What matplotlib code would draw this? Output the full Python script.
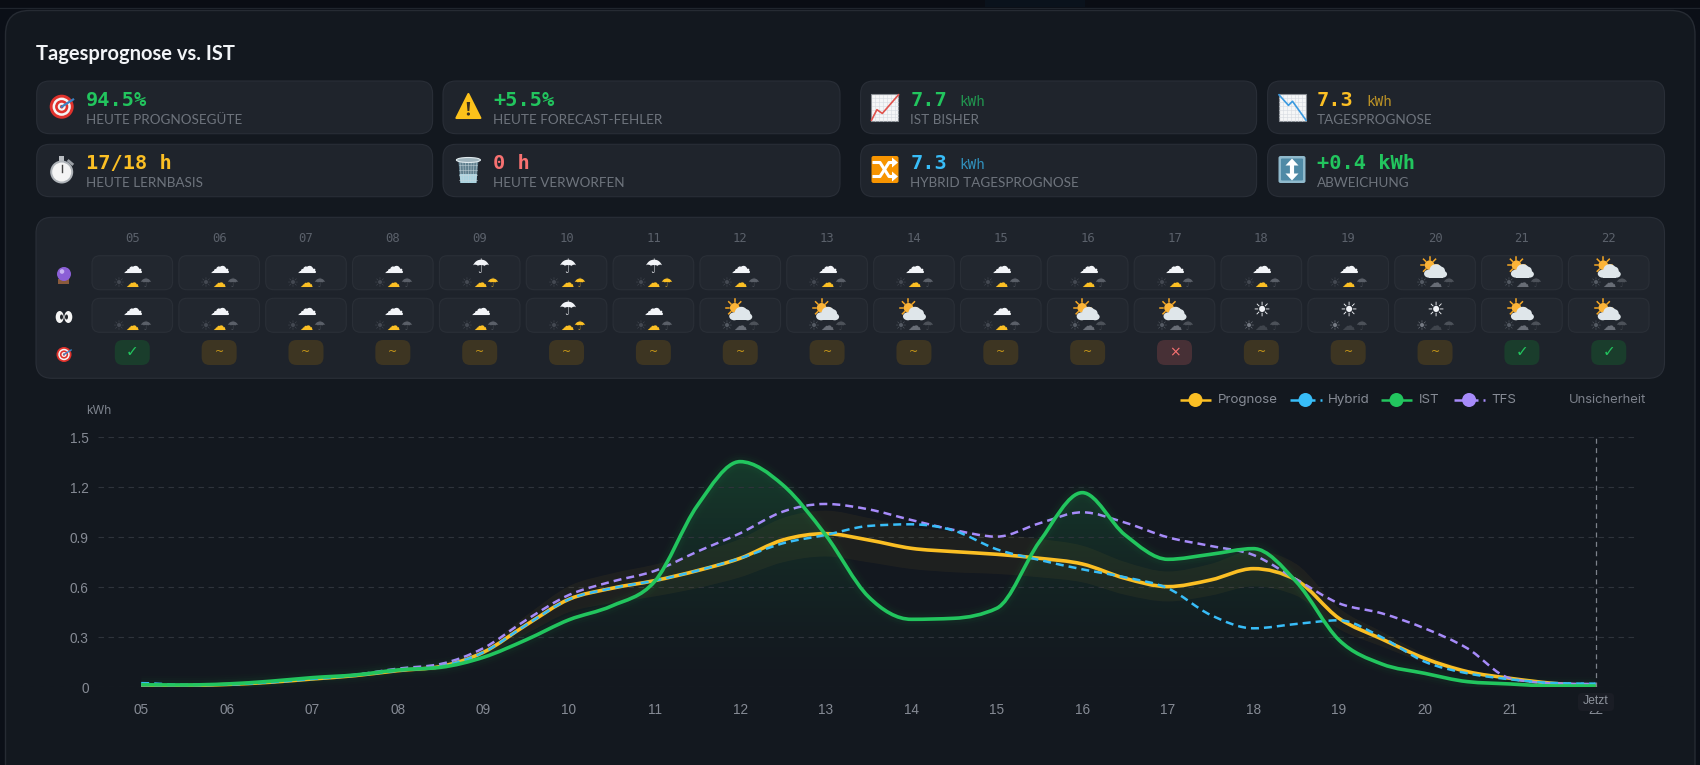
import numpy as np
import matplotlib
matplotlib.use('Agg')
import matplotlib.pyplot as plt
from matplotlib.patches import FancyBboxPatch, PathPatch, Circle, Ellipse, Polygon, Rectangle
from matplotlib.path import Path
from matplotlib.colors import to_rgb

# half hour readings 05:00 .. 22:00
hours = [5 + i * 0.5 for i in range(35)]
prognose = [.008, .01, .017, .03, .05, .07, .10, .125, .21, .374, .528, .594, .64, .70, .774, .884, .922, .884,
            .834, .814, .798, .774, .74, .654, .604, .644, .712, .644, .414, .29, .174, .094, .054, .024, .01]
band_low = [.007, .009, .014, .026, .042, .06, .085, .105, .18, .32, .45, .505, .545, .595, .66, .75, .785, .75,
            .71, .69, .68, .66, .63, .555, .515, .55, .605, .55, .35, .245, .148, .08, .046, .02, .008]
band_high = [.009, .011, .02, .034, .058, .08, .115, .145, .24, .43, .607, .683, .736, .805, .89, 1.016, 1.06, 1.016,
             .96, .936, .918, .89, .85, .752, .695, .74, .82, .74, .476, .334, .2, .108, .062, .028, .012]
hybrid = [.025, .015, .017, .03, .05, .07, .10, .125, .21, .374, .528, .594, .64, .70, .774, .864, .914, .968,
          .978, .94, .828, .764, .708, .66, .594, .434, .354, .38, .402, .30, .154, .084, .048, .026, .022]
ist = [.015, .014, .02, .036, .058, .074, .104, .12, .18, .285, .405, .488, .634, 1.09, 1.354, 1.214, .914, .544,
       .408, .414, .474, .874, 1.168, .914, .768, .798, .832, .634, .284, .14, .084, .034, .02, .008, .008]
tfs = [.012, .012, .017, .03, .052, .075, .112, .14, .235, .404, .554, .634, .698, .814, .924, 1.054, 1.10, 1.068,
       1.004, .944, .904, .984, 1.05, .988, .90, .848, .794, .648, .504, .444, .354, .234, .054, .024, .02]

tick_hours = list(range(5, 23))
tick_labels = ['%02d' % h for h in tick_hours]
y_ticks = [0, 0.3, 0.6, 0.9, 1.2, 1.5]
y_labels = ['0', '0.3', '0.6', '0.9', '1.2', '1.5']

# stat cards
card_values = ['94.5%', '+5.5%', '7.7', '7.3', '17/18 h', '0 h', '7.3', '+0.4 kWh']
card_units = ['', '', 'kWh', 'kWh', '', '', 'kWh', '']
card_labels = ['HEUTE PROGNOSEGÜTE', 'HEUTE FORECAST-FEHLER', 'IST BISHER', 'TAGESPROGNOSE',
               'HEUTE LERNBASIS', 'HEUTE VERWORFEN', 'HYBRID TAGESPROGNOSE', 'ABWEICHUNG']
card_colors = ['#22c55e', '#22c55e', '#22c55e', '#fbbf24', '#fbbf24', '#f87171', '#38bdf8', '#22c55e']

# weather strip: c cloud, u umbrella, p part sun, s sun
forecast_wx = list('ccccuuuccccccccppp')
actual_wx = list('cccccucpppcppssspp')
badges = ['ok'] + ['near'] * 11 + ['bad'] + ['near'] * 3 + ['ok', 'ok']

AMBER, BLUE, GREEN, PURPLE = '#fbbf24', '#38bdf8', '#22c55e', '#a78bfa'
CARD_BG = '#13181f'

fig = plt.figure(figsize=(17, 7.65), dpi=100, facecolor='#0b0f17')
bg = fig.add_axes([0, 0, 1, 1])
bg.set_xlim(0, 1700)
bg.set_ylim(765, 0)
bg.axis('off')


def box(x0, y0, x1, y1, r, fc, ec='none', lw=1, z=1):
    p = FancyBboxPatch((x0, y0), x1 - x0, y1 - y0, boxstyle='round,pad=0,rounding_size=%g' % r,
                       fc=fc, ec=ec, lw=lw, zorder=z)
    bg.add_patch(p)


def smooth(xs, ys):
    # bezier segments through the points, flat at local peaks
    xs, ys = np.array(xs, float), np.array(ys, float)
    n = len(xs)
    m = np.zeros(n)
    for i in range(1, n - 1):
        d0, d1 = ys[i] - ys[i - 1], ys[i + 1] - ys[i]
        if d0 * d1 > 0:
            m[i] = (d0 + d1) / 2
            m[i] = np.sign(m[i]) * min(abs(m[i]), 2 * abs(d0), 2 * abs(d1))
    verts = [(xs[0], ys[0])]
    for i in range(n - 1):
        h = xs[i + 1] - xs[i]
        verts.append((xs[i] + h / 3, ys[i] + m[i] / 3))
        verts.append((xs[i + 1] - h / 3, ys[i + 1] - m[i + 1] / 3))
        verts.append((xs[i + 1], ys[i + 1]))
    return verts


def curve_path(xs, ys):
    v = smooth(xs, ys)
    return Path(v, [Path.MOVETO] + [Path.CURVE4] * (len(v) - 1))


# page frame
bg.add_patch(Rectangle((0, 0), 1700, 7, fc='#0a0d14', ec='none', zorder=0))
bg.plot([0, 1700], [7.5, 7.5], color='#20252d', lw=0.8, zorder=0)
bg.add_patch(Rectangle((985, 0), 100, 7, fc='#0a121c', ec='none', zorder=0))
box(5.5, 10.5, 1695, 810, 24, CARD_BG, '#262b33', 1)

bg.text(36, 60, 'Tagesprognose vs. IST', family='Lato', weight='bold', fontsize=14.5, color='#f2f4f7', zorder=5)


# little stand-ins for the colour emoji, there is no emoji font here
def icon_target(cx, cy, r):
    for f, c in [(1, '#e0322c'), (.76, '#f4f4f4'), (.55, '#e0322c'), (.33, '#f4f4f4'), (.15, '#e0322c')]:
        bg.add_patch(Circle((cx, cy), r * f, fc=c, ec='none', zorder=5))
    bg.plot([cx, cx + r * .95], [cy, cy - r * .6], color='#3b82c4', lw=1.6 * r / 12, zorder=6)


def icon_warning(cx, cy):
    bg.add_patch(Polygon([(cx, cy - 12), (cx + 12, cy + 12), (cx - 12, cy + 12)], fc='#fcc21b', ec='#fcc21b',
                         lw=1.5, joinstyle='round', zorder=5))
    bg.add_patch(Polygon([(cx - 1.7, cy - 4), (cx + 1.7, cy - 4), (cx + .9, cy + 5), (cx - .9, cy + 5)],
                         fc='#3a3020', ec='none', zorder=6))
    bg.add_patch(Circle((cx, cy + 8), 1.6, fc='#3a3020', ec='none', zorder=6))


def icon_stopwatch(cx, cy):
    bg.add_patch(Rectangle((cx - 2.5, cy - 14), 5, 5, fc='#b9bdc2', ec='none', zorder=5))
    bg.add_patch(Circle((cx, cy + 2), 11.5, fc='#aeb3b8', ec='none', zorder=5))
    bg.add_patch(Circle((cx, cy + 2), 9.5, fc='#f4f4f4', ec='none', zorder=6))
    bg.plot([cx, cx], [cy + 2, cy - 5], color='#444', lw=1, zorder=7)
    bg.plot([cx + 7, cx + 10.5], [cy - 9, cy - 6], color='#9a9fa5', lw=2, zorder=5)


def icon_trash(cx, cy):
    bg.add_patch(Polygon([(cx - 10, cy - 9), (cx + 10, cy - 9), (cx + 8, cy + 13), (cx - 8, cy + 13)],
                         fc='#5f7f8e', ec='none', zorder=5))
    bg.add_patch(Polygon([(cx - 8.8, cy + 4), (cx + 8.8, cy + 4), (cx + 8, cy + 13), (cx - 8, cy + 13)],
                         fc='#a9d3e0', ec='none', zorder=6))
    for k in range(-3, 4):
        bg.plot([cx + k * 2.8, cx + k * 2.3], [cy - 8, cy + 12], color='#c6d6dc', lw=.5, alpha=.7, zorder=7)
    for k in range(4):
        bg.plot([cx - 9, cx + 9], [cy - 5 + k * 5, cy - 5 + k * 5], color='#c6d6dc', lw=.5, alpha=.7, zorder=7)
    bg.add_patch(Ellipse((cx, cy - 10), 24, 5, fc='#9fb4bd', ec='#dfe9ed', lw=.8, zorder=7))


def icon_graph(cx, cy, pts, col):
    bg.add_patch(Rectangle((cx - 13.5, cy - 13.5), 27, 27, fc='#f5f6f7', ec='#8a8f95', lw=.8, zorder=5))
    for k in range(1, 7):
        bg.plot([cx - 13.5 + k * 3.9] * 2, [cy - 13, cy + 13], color='#d5dae0', lw=.4, zorder=6)
        bg.plot([cx - 13, cx + 13], [cy - 13.5 + k * 3.9] * 2, color='#d5dae0', lw=.4, zorder=6)
    bg.plot([cx - 13.5 + 27 * a for a, b in pts], [cy - 13.5 + 27 * b for a, b in pts], color=col, lw=1.2, zorder=7)


def icon_shuffle(cx, cy):
    box(cx - 13.5, cy - 13.5, cx + 13.5, cy + 13.5, 2, '#f79400', z=5)
    bg.plot([cx - 11, cx - 5, cx + 4, cx + 8], [cy - 7, cy - 7, cy + 7, cy + 7], color='white', lw=2.2, zorder=6)
    bg.plot([cx - 11, cx - 5, cx + 4, cx + 8], [cy + 7, cy + 7, cy - 7, cy - 7], color='white', lw=2.2, zorder=6)
    for s in (-1, 1):
        bg.add_patch(Polygon([(cx + 7, cy + s * 2), (cx + 7, cy + s * 12), (cx + 13, cy + s * 7)], fc='white', zorder=6))


def icon_updown(cx, cy):
    box(cx - 13.5, cy - 13.5, cx + 13.5, cy + 13.5, 2, '#8fb9cc', z=5)
    box(cx - 11, cy - 11, cx + 11, cy + 11, 1, '#4f8aa6', z=6)
    bg.plot([cx, cx], [cy - 6, cy + 6], color='white', lw=3, zorder=7)
    bg.add_patch(Polygon([(cx - 6.5, cy - 4), (cx + 6.5, cy - 4), (cx, cy - 11)], fc='white', zorder=7))
    bg.add_patch(Polygon([(cx - 6.5, cy + 4), (cx + 6.5, cy + 4), (cx, cy + 11)], fc='white', zorder=7))


def icon_part_sun(x, y):
    # sun behind a cloud
    sx, sy = x - 5.5, y - 3.5
    for a in np.arange(0, 2 * np.pi, np.pi / 4):
        bg.plot([sx + 5.5 * np.cos(a), sx + 8.5 * np.cos(a)], [sy + 5.5 * np.sin(a), sy + 8.5 * np.sin(a)],
                color='#f5a623', lw=1.1, zorder=6)
    bg.add_patch(Circle((sx, sy), 4.8, fc='#fbb438', ec='none', zorder=6))
    for dx, dy, w, h in [(-6, 5, 10, 8), (7.5, 5.5, 9, 7), (1, 1.5, 13, 12), (6, 2.5, 8, 9)]:
        bg.add_patch(Ellipse((x + dx, y + dy), w, h, fc='#dfe6ea', ec='none', zorder=7))
    bg.add_patch(Rectangle((x - 6, y + 5), 13.5, 4, fc='#dfe6ea', ec='none', zorder=7))


# stat cards, 2 rows of 4
col_x = [(36.7, 432.6), (443, 840), (860.6, 1256.6), (1267.6, 1664.5)]
row_y = [(81, 133.7), (144.3, 196.7)]
text_x = [86.2, 493.5, 910.4, 1317]
unit_x = [0, 0, 959, 1366]
for i in range(8):
    c, r = i % 4, i // 4
    box(col_x[c][0], row_y[r][0], col_x[c][1], row_y[r][1], 13, '#1f242c', '#292e37', .8, z=2)
    bg.text(text_x[c], row_y[r][0] + 25, card_values[i], family='DejaVu Sans Mono', weight='bold', fontsize=14.6,
            color=card_colors[i], zorder=5)
    if card_units[i]:
        bg.text(unit_x[c], row_y[r][0] + 25, card_units[i], family='DejaVu Sans Mono', fontsize=10.3,
                color=card_colors[i], alpha=.7, zorder=5)
    bg.text(text_x[c], row_y[r][0] + 43, card_labels[i], family='Lato', fontsize=9.75, color='#6e747d', zorder=5)

icon_target(61.7, 106.7, 12)
icon_warning(468.4, 106)
icon_graph(885, 107.5, [(0, .97), (.2, .58), (.4, .72), (1, .03)], '#e0524c')
icon_graph(1292.5, 107.5, [(0, .03), (.35, .42), (.5, .27), (1, .97)], '#3b9ae0')
icon_stopwatch(61.7, 170)
icon_trash(468.4, 170)
icon_shuffle(885, 169.5)
icon_updown(1292, 169.5)

# weather strip
box(36, 217.3, 1664.5, 378.3, 16, '#1e232b', '#2a2f38', .8, z=2)
col0, col_step = 132.3, 86.85


def wx_main(x, y, kind):
    if kind == 'p':
        icon_part_sun(x, y)
    else:
        g = {'c': '\u2601', 'u': '\u2602', 's': '\u2600'}[kind]
        bg.text(x, y - 1.5, g, family='DejaVu Sans', fontsize=14.5, color='#f2f4f8', ha='center', va='center', zorder=6)


small_cols = {'c': ('#444952', AMBER, '#5a5f68'), 'u': ('#444952', AMBER, AMBER),
              'p': ('#555b64', '#686d76', '#4c5159'), 's': ('#777c85', '#3f444c', '#4c5159')}
badge_styles = {'ok': ('#1a3d2c', GREEN, '\u2713', 11), 'near': ('#3d3522', '#d4a017', '~', 8),
                'bad': ('#473036', '#f87171', '\u00d7', 10)}
for i, lab in enumerate(tick_labels):
    x = col0 + i * col_step
    bg.text(x, 238.5, lab, family='DejaVu Sans Mono', fontsize=8.8, color='#5b616b', ha='center', va='center', zorder=5)
    for y0, kinds in ((255.7, forecast_wx), (298.3, actual_wx)):
        box(x - 40.3, y0, x + 40.3, y0 + 34, 8, '#22272f', '#2a2f37', .8, z=3)
        wx_main(x, y0 + 13, kinds[i])
        sc = small_cols[kinds[i]]
        for dx, g, c in zip((-13, 0, 13), '\u2600\u2601\u2602', sc):
            bg.text(x + dx, y0 + 28, g, family='DejaVu Sans', fontsize=9.5, color=c, ha='center', va='center', zorder=6)
    fc, tc, sym, fs = badge_styles[badges[i]]
    box(x - 17.5, 340, x + 17.5, 365, 8, fc, z=3)
    bg.text(x, 352, sym, family='DejaVu Sans', fontsize=fs, color=tc, ha='center', va='center', zorder=5)

# row icons: crystal ball, eyes, target
bg.add_patch(Rectangle((58.5, 279), 11, 4.5, fc='#8a5a3c', ec='none', zorder=5))
bg.add_patch(Circle((64, 274), 7, fc='#8b5fd6', ec='none', zorder=6))
bg.add_patch(Circle((62, 271.5), 2.3, fc='#c7b3f2', ec='none', zorder=7))
for dx, px in ((-4.3, 1.8), (4.3, -1.8)):
    bg.add_patch(Ellipse((64 + dx, 317), 8, 12, fc='#f4f4f4', ec='none', zorder=5))
    bg.add_patch(Ellipse((64 + dx + px, 317), 3, 5, fc='#22252b', ec='none', zorder=6))
icon_target(64, 354.5, 7.5)

# chart axes, bands are 85.56 px wide so 4.5..22.5 fills the plot
ax = fig.add_axes([98.4 / 1700, 1 - 687.3 / 765, 1540 / 1700, 250 / 765])
ax.patch.set_alpha(0)
for s in ax.spines.values():
    s.set_visible(False)
ax.grid(axis='y', color='#2e333b', lw=.8, ls=(0, (5, 4)), zorder=1.8)
ax.set_axisbelow('line')

# uncertainty band
up = smooth(hours, band_high)
lo = smooth(hours, band_low)[::-1]
band_verts = up + lo + [up[0]]
band_codes = [Path.MOVETO] + [Path.CURVE4] * (len(up) - 1) + [Path.LINETO] + [Path.CURVE4] * (len(lo) - 1) + [Path.CLOSEPOLY]
ax.add_patch(PathPatch(Path(band_verts, band_codes), fc=AMBER, ec='none', alpha=.05, zorder=2))

# gradient under IST, mixed by hand against the card colour so it fades without a step
iv = smooth(hours, ist)
area = Path(iv + [(22, 0), (5, 0), iv[0]], [Path.MOVETO] + [Path.CURVE4] * (len(iv) - 1) + [Path.LINETO, Path.LINETO, Path.CLOSEPOLY])
clip = PathPatch(area, fc='none', ec='none')
ax.add_patch(clip)
fade = (np.linspace(1, 0, 512) ** 1.4 * .2)[:, None, None]
grad = np.array(to_rgb(CARD_BG))[None, None, :] * (1 - fade) + np.array(to_rgb(GREEN))[None, None, :] * fade
im = ax.imshow(grad, extent=(5, 22, 0, 1.354), aspect='auto', zorder=1.5)
im.set_clip_path(clip)

ax.add_patch(PathPatch(curve_path(hours, prognose), fill=False, ec=AMBER, lw=2.6, zorder=4))
ax.add_patch(PathPatch(curve_path(hours, tfs), fill=False, ec=PURPLE, lw=1.8, ls=(0, (3.2, 2)), zorder=4.2))
ax.add_patch(PathPatch(curve_path(hours, hybrid), fill=False, ec=BLUE, lw=1.8, ls=(0, (3.2, 2)), zorder=4.4))
ist_curve = curve_path(hours, ist)
for w, a in ((13, .012), (10, .018), (7, .03)):
    ax.add_patch(PathPatch(ist_curve, fill=False, ec=GREEN, lw=w, alpha=a, zorder=4.5))
ax.add_patch(PathPatch(ist_curve, fill=False, ec=GREEN, lw=2.6, zorder=5))

ax.axvline(22, color='#7d828b', lw=.9, ls=(0, (4, 3.5)), zorder=3)

ax.set_xlim(4.5, 22.5)
ax.set_ylim(0, 1.5)
ax.set_xticks(tick_hours, tick_labels, family='Liberation Sans', fontsize=9.8, color='#868b95')
ax.set_yticks(y_ticks, y_labels, family='Liberation Sans', fontsize=9.8, color='#868b95')
ax.tick_params(axis='x', length=0, pad=11)
ax.tick_params(axis='y', length=0, pad=7)

# overlay for text on top of the chart
top = fig.add_axes([0, 0, 1, 1], zorder=10)
top.set_xlim(0, 1700)
top.set_ylim(765, 0)
top.axis('off')
top.text(86, 411, 'kWh', family='Inter', fontsize=8.6, color='#7d838d', va='center')
top.add_patch(FancyBboxPatch((1578, 693), 36, 18, boxstyle='round,pad=0,rounding_size=4', fc='#1a1d25', ec='none'))
top.text(1596, 701.5, 'Jetzt', family='Liberation Sans', fontsize=8.8, color='#8d929b', ha='center', va='center')

# legend
legend_y = 400
legend = [('Prognose', AMBER, 1180, 1211, None, 1217.7), ('Hybrid', BLUE, 1290, 1315, 1321, 1327.7),
          ('IST', GREEN, 1381, 1412, None, 1419), ('TFS', PURPLE, 1453.7, 1478.5, 1484, 1491)]
for name, c, x0, x1, dot, tx in legend:
    top.plot([x0, x1], [legend_y, legend_y], color=c, lw=1.8, solid_capstyle='butt')
    cx = (x0 + x1) / 2 if dot is None else (x0 + x1) / 2 + 3
    top.add_patch(Circle((cx, legend_y), 7, fc=c, ec='none'))
    if dot:
        top.plot([dot - 1, dot + 1], [legend_y, legend_y], color=c, lw=1.8, solid_capstyle='butt')
    top.text(tx, legend_y, name, family='Inter', fontsize=9.6, color='#868b95', va='center')
top.text(1568.7, legend_y, 'Unsicherheit', family='Inter', fontsize=9.4, color='#7b808a', va='center')

fig.savefig('out.png', dpi=100, facecolor=fig.get_facecolor())
